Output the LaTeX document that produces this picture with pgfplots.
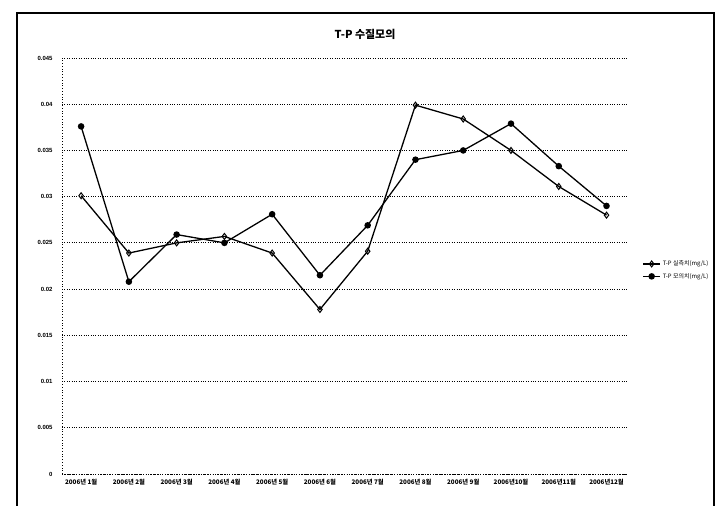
\documentclass[border=0pt]{standalone}
\usepackage{pgfplots}
\pgfplotsset{compat=1.18}
\usepackage{fontspec}
\setmainfont{Liberation Sans}
\newfontfamily\cjk{Noto Sans CJK KR}
\pgfplotstableread{
x A B
0 0.0376 0.0301
1 0.0208 0.0239
2 0.0259 0.0250
3 0.0250 0.0257
4 0.0281 0.0239
5 0.0215 0.0178
6 0.0269 0.0241
7 0.0340 0.0399
8 0.0350 0.0384
9 0.0379 0.0350
10 0.0333 0.0311
11 0.0290 0.0280
}\tp
\begin{document}
\begin{tikzpicture}[x=1bp,y=1bp]
\path[use as bounding box] (0,0) rectangle (717,506);
\draw[line width=1.6pt] (17,-2) -- (17,493) -- (714,493) -- (714,-2);
\node[font=\cjk\bfseries\fontsize{11}{12}\selectfont] at (365,472) {T-P 수질모의};
\begin{axis}[
  at={(62bp,32bp)}, anchor=south west,
  width=566bp, height=416bp, scale only axis,
  xmin=-0.4, xmax=11.45, ymin=0, ymax=0.045,
  axis x line*=bottom, axis y line*=left,
  axis line style={dotted, line width=0.8pt, -},
  xtick=data,
  xticklabels={2006년 1월,2006년 2월,2006년 3월,2006년 4월,2006년 5월,2006년 6월,2006년 7월,2006년 8월,2006년 9월,2006년10월,2006년11월,2006년12월},
  xticklabel style={font=\cjk\bfseries\fontsize{6.3}{7}\selectfont, yshift=-2pt},
  ytick={0,0.005,0.01,0.015,0.02,0.025,0.03,0.035,0.04,0.045},
  yticklabels={0,0.005,0.01,0.015,0.02,0.025,0.03,0.035,0.04,0.045},
  scaled y ticks=false,
  yticklabel style={font=\bfseries\fontsize{6}{7}\selectfont, xshift=-6pt},
  major tick length=0pt,
  ymajorgrids, grid style={dotted, line width=0.8pt, black},
  legend style={at={(1.02,0.49)}, anchor=west, draw=none, fill=none,
    font=\cjk\fontsize{6}{7}\selectfont, row sep=2pt},
  legend cell align=left,
  clip=false,
]
\addplot[black, line width=1.3pt, mark=diamond, mark size=3pt, mark options={solid, fill=white, line width=1pt}] table[x=x,y=B]{\tp};
\addlegendentry{T-P 실측치(mg/L)}
\addplot[black, line width=1.3pt, mark=*, mark size=2.6pt, mark options={solid, fill=black}] table[x=x,y=A]{\tp};
\addlegendentry{T-P 모의치(mg/L)}
\end{axis}
\end{tikzpicture}
\end{document}
